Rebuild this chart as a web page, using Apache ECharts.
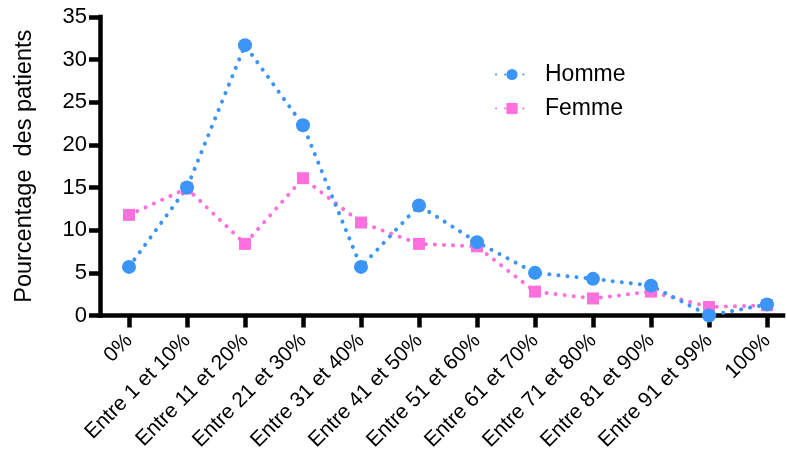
<!DOCTYPE html>
<html>
<head>
<meta charset="utf-8">
<script src="https://cdn.jsdelivr.net/npm/echarts@6/dist/echarts.min.js"></script>
<style>
html,body{margin:0;padding:0;background:#fff;}
#c{width:787px;height:456px;}
</style>
</head>
<body>
<div id="c"></div>
<script>
const categories = ['0%', 'Entre 1 et 10%', 'Entre 11 et 20%', 'Entre 21 et 30%', 'Entre 31 et 40%', 'Entre 41 et 50%', 'Entre 51 et 60%', 'Entre 61 et 70%', 'Entre 71 et 80%', 'Entre 81 et 90%', 'Entre 91 et 99%', '100%'];
const homme = [5.7, 15.0, 31.7, 22.3, 5.7, 12.9, 8.6, 5.0, 4.3, 3.5, 0.0, 1.3];
const femme = [11.8, 14.9, 8.4, 16.1, 10.9, 8.4, 8.1, 2.8, 2.0, 2.8, 1.0, 1.2];
const yTicks = [0, 5, 10, 15, 20, 25, 30, 35];

const FONT = 'Liberation Sans, Arial, sans-serif';
const idx = categories.map((c, i) => i);
const toPairs = arr => arr.map((v, i) => [i, v]);

const chart = echarts.init(document.getElementById('c'), null, {renderer: 'canvas'});
chart.setOption({
  animation: false,
  backgroundColor: '#fff',
  grid: {left: 100, right: 4, top: 17, bottom: 140.5, containLabel: false},
  xAxis: {
    type: 'value',
    min: -0.5,
    max: 11.276,
    splitLine: {show: false},
    axisLine: {show: true, onZero: false, lineStyle: {color: '#000', width: 4.5, cap: 'square'}},
    axisTick: {show: true, customValues: idx, length: 12, lineStyle: {color: '#000', width: 4.5}},
    axisLabel: {
      customValues: idx,
      rotate: 45,
      margin: 22,
      color: '#000',
      fontSize: 21,
      fontFamily: FONT,
      formatter: v => categories[Math.round(v)]
    }
  },
  yAxis: {
    type: 'value',
    min: yTicks[0],
    max: yTicks[yTicks.length - 1],
    interval: 5,
    name: 'Pourcentage  des patients',
    nameLocation: 'middle',
    nameGap: 63,
    nameRotate: 90,
    nameTextStyle: {color: '#000', fontSize: 23.5, fontFamily: FONT},
    splitLine: {show: false},
    axisLine: {show: true, onZero: false, lineStyle: {color: '#000', width: 4.5, cap: 'square'}},
    axisTick: {show: true, inside: false, length: 11, lineStyle: {color: '#000', width: 4.5}},
    axisLabel: {color: '#000', fontSize: 22, fontFamily: FONT, margin: 13}
  },
  legend: {
    orient: 'vertical',
    left: 490,
    top: 58,
    itemWidth: 32,
    itemHeight: 14,
    itemGap: 11,
    data: ['Homme', 'Femme'],
    textStyle: {color: '#000', fontSize: 23, fontFamily: FONT, padding: [0, 0, 0, 12]}
  },
  series: [
    {
      name: 'Femme',
      type: 'line',
      data: toPairs(femme),
      symbol: 'rect',
      symbolSize: 12,
      itemStyle: {color: '#ff6fde'},
      lineStyle: {color: '#ff6fde', width: 4, type: [0.1, 9], cap: 'round'}
    },
    {
      name: 'Homme',
      type: 'line',
      data: toPairs(homme),
      symbol: 'circle',
      symbolSize: 14,
      itemStyle: {color: '#3b95f6'},
      lineStyle: {color: '#3b95f6', width: 4, type: [0.1, 9], cap: 'round'}
    }
  ]
});
</script>
</body>
</html>
